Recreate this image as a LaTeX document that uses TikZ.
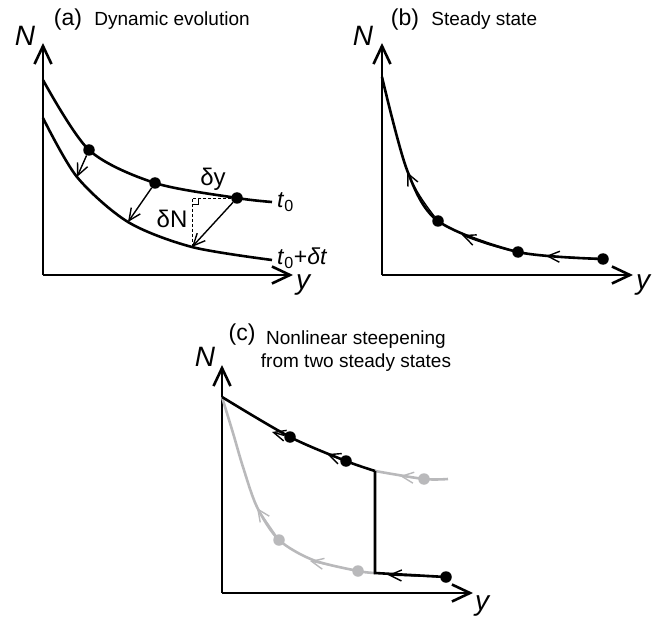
\documentclass[tikz,border=0pt]{standalone}
\usepackage{fontspec}
\setmainfont{Liberation Sans}
\usepackage{tikz}
\usetikzlibrary{arrows.meta, positioning}
\definecolor{paleg}{HTML}{B9B9BB}
\tikzstyle{ax}=[line width=2.6pt,-{Straight Barb[length=18pt,width=17pt]}]
\tikzstyle{crv}=[line width=2.6pt]
\tikzstyle{arr}=[line width=1.4pt,-{Straight Barb[length=12pt,width=11pt]}]
\tikzstyle{pt}=[circle,fill,inner sep=0pt,minimum size=11.5pt]
\tikzstyle{axlab}=[inner sep=1pt,font=\fontsize{28}{32}\selectfont\itshape]
\tikzstyle{tag}=[inner sep=1pt,font=\fontsize{23}{27}\selectfont]
\tikzstyle{dlab}=[inner sep=1pt,font=\fontsize{24}{28}\selectfont]
\tikzstyle{ttl}=[inner sep=1pt,font=\fontsize{19}{22.5}\selectfont]

\begin{document}
\begin{tikzpicture}[x=1pt,y=-1pt]
  \useasboundingbox (0,0) rectangle (666,620);
  \coordinate (oa) at (43,275);
  \coordinate (na) at (43,43);
  \coordinate (ea) at (293,275);
  \draw[ax] (oa) -- (na);
  \draw[ax] (oa) -- (ea);
  \node[axlab] (Na) at (25,36) {N};
  \node[axlab] (ya) at (303,285) {y};
  \node[tag] (la) at (68,20) {(a)};
  \node[ttl,base right=10pt of la] (ta) {Dynamic evolution};
  \node[pt] (a1) at (89,150) {};
  \node[pt] (a2) at (155,183) {};
  \node[pt] (a3) at (237,198) {};
  \coordinate (a1e) at (77,177);
  \coordinate (a2e) at (128,222);
  \coordinate (a3e) at (192,247);
  \draw[crv] plot[smooth] coordinates {(43,80) (a1.center) (a2.center) (a3.center) (272,202)};
  \draw[crv] plot[smooth] coordinates {(43,118) (a1e) (a2e) (a3e) (272,260)};
  \draw[arr] (a1) -- (a1e);
  \draw[arr] (a2) -- (a2e);
  \draw[arr] (a3) -- (a3e);
  \coordinate (ca) at (a3e |- a3);
  \draw[line width=0.9pt,dash pattern=on 3pt off 2pt] (a3) -- (ca) -- (a3e);
  \draw[line width=0.9pt] ([yshift=-6pt]ca) -- ++(6,0) -- ([xshift=6pt]ca);
  \node[dlab] (dy) at (213,179) {δy};
  \node[dlab] (dN) at (172,219) {δN};
  \node[tag,anchor=west] (t0) at (276,202) {\textit{t}\textsubscript{0}};
  \node[tag,anchor=west] (t1) at (276,258) {\textit{t}\textsubscript{0}+\textit{δt}};

  \coordinate (ob) at (382,275);
  \coordinate (nb) at (382,43);
  \coordinate (eb) at (633,275);
  \draw[ax] (ob) -- (nb);
  \draw[ax] (ob) -- (eb);
  \node[axlab] (Nb) at (363,36) {N};
  \node[axlab] (yb) at (643,285) {y};
  \node[tag] (lb) at (405,20) {(b)};
  \node[ttl,base right=10pt of lb] (tb) {Steady state};
  \node[pt] (b1) at (438,221) {};
  \node[pt] (b2) at (518,252) {};
  \node[pt] (b3) at (603,259) {};
  \coordinate (b1e) at (407,172);
  \coordinate (b2e) at (462,235);
  \coordinate (b3e) at (546,256);
  \draw[crv] plot[smooth] coordinates {(382,77) (407,170) (b1.center) (b2.center) (b3.center)};
  \draw[arr] (b3) -- (b3e);
  \draw[arr] (b2) to[bend left=4] (b2e);
  \draw[arr] (b1) to[bend left=6] (b1e);

  \coordinate (oc) at (222,593);
  \coordinate (nc) at (222,365);
  \coordinate (ec) at (473,593);
  \draw[ax] (oc) -- (nc);
  \draw[ax] (oc) -- (ec);
  \node[axlab] (Nc) at (205,357) {N};
  \node[axlab] (yc) at (482,606) {y};
  \node[tag] (lc) at (242,335) {(c)};
  \node[ttl,align=center] (tc) at (356,351) {Nonlinear steepening\\from two steady states};
  \coordinate (sc) at (222,397);
  \coordinate (jt) at (375,471);
  \coordinate (jb) at (375,573);
  \node[pt,fill=paleg] (g1) at (424,479) {};
  \node[pt,fill=paleg] (g2) at (279,540) {};
  \node[pt,fill=paleg] (g3) at (358,571) {};
  \node[pt] (c1) at (290,437) {};
  \node[pt] (c2) at (346,461) {};
  \node[pt] (c3) at (446,577) {};
  \coordinate (g1e) at (400,476);
  \coordinate (g2e) at (257,508);
  \coordinate (g3e) at (310,561);
  \coordinate (c1e) at (272,432);
  \coordinate (c2e) at (327,454);
  \coordinate (c3e) at (388,575);
  \draw[crv,draw=paleg] plot[smooth] coordinates {(jt) (g1.center) (448,479)};
  \draw[crv,draw=paleg] plot[smooth] coordinates {(sc) (233,433) (243,467) (257,507) (g2.center) (313,560) (g3.center) (jb)};
  \draw[crv] plot[smooth] coordinates {(sc) (c1.center) (c2.center) (jt)};
  \draw[crv] (jt) -- (jb) -- (c3.center);
  \draw[arr,draw=paleg] (g1) -- (g1e);
  \draw[arr,draw=paleg] (g2) -- (g2e);
  \draw[arr,draw=paleg] (g3) -- (g3e);
  \draw[arr] (c1) -- (c1e);
  \draw[arr] (c2) -- (c2e);
  \draw[arr] (c3) -- (c3e);
\end{tikzpicture}
\end{document}
